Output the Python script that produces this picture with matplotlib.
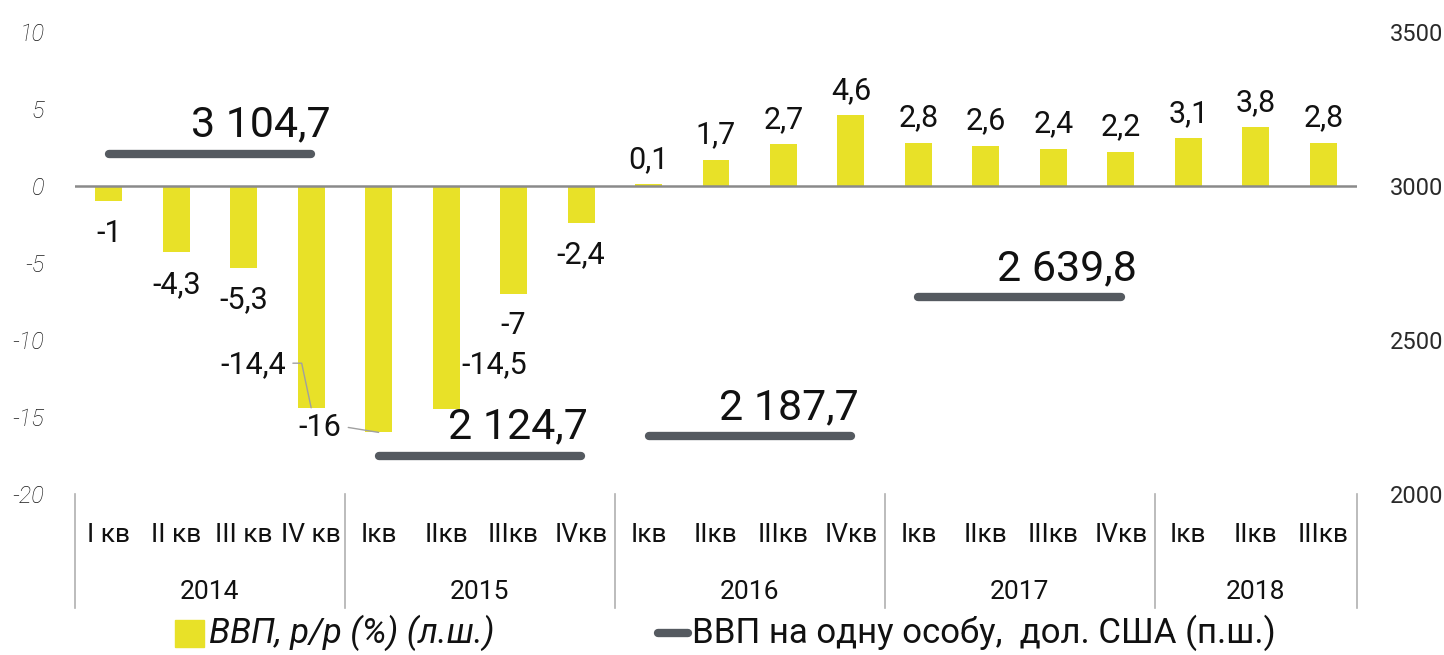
import matplotlib
matplotlib.use("Agg")
import matplotlib.pyplot as plt
from matplotlib.lines import Line2D
from matplotlib.patches import Rectangle

plt.rcParams['font.family'] = ['Roboto', 'DejaVu Sans']

# ---- data ----
quarters = ["I кв", "II кв", "III кв", "IV кв",
            "Iкв", "IIкв", "IIIкв", "IVкв",
            "Iкв", "IIкв", "IIIкв", "IVкв",
            "Iкв", "IIкв", "IIIкв", "IVкв",
            "Iкв", "IIкв", "IIIкв"]
years = ["2014", "2015", "2016", "2017", "2018"]
year_sizes = [4, 4, 4, 4, 3]
gdp_growth = [-1, -4.3, -5.3, -14.4, -16, -14.5, -7, -2.4,
              0.1, 1.7, 2.7, 4.6, 2.8, 2.6, 2.4, 2.2, 3.1, 3.8, 2.8]
gdp_per_capita = [3104.7, 2124.7, 2187.7, 2639.8]
gdp_pc_labels = ["3 104,7", "2 124,7", "2 187,7", "2 639,8"]
left_ticks = [10, 5, 0, -5, -10, -15, -20]
right_ticks = [2000, 2500, 3000, 3500]

# label x-offsets (pixels) for the big per-capita labels
pc_label_dx = [19, 7, 8, 16]

BAR = "#E8E128"
LINE = "#555A60"
TXT = "#111111"
PX = 72 / 100  # points per pixel

W, H = 1444, 655
fig = plt.figure(figsize=(W / 100, H / 100), dpi=100)
x0, x1, ytop, ybot = 75, 1357, 32, 494
ax = fig.add_axes([x0 / W, 1 - ybot / H, (x1 - x0) / W, (ybot - ytop) / H])
ax2 = ax.twinx()

n = len(gdp_growth)
xs = list(range(n))
ax.bar(xs, gdp_growth, width=0.4, color=BAR, zorder=2)
ax.set_xlim(-0.5, n - 0.5)
ax.set_ylim(-20, 10)
ax2.set_ylim(2000, 3500)
ax.axhline(0, color="#8A8A8A", lw=1.8, zorder=3)

for a in (ax, ax2):
    for s in a.spines.values():
        s.set_visible(False)
ax.set_xticks([])
ax.set_yticks(left_ticks)
ax.set_yticklabels([str(t) for t in left_ticks], fontstyle="italic",
                   fontsize=17, color="#1a1a1a", fontweight="light")
ax.tick_params(axis="y", length=0, pad=22)
ax2.set_yticks(right_ticks)
ax2.set_yticklabels([str(t) for t in right_ticks], fontsize=17, color="#2a2a2a")
ax2.tick_params(axis="y", length=0, pad=24)


def fmt(v):
    return ("%g" % v).replace(".", ",")


LBL = 22
# bar value labels
special = {3, 4, 5}
for i, v in enumerate(gdp_growth):
    if i in special:
        continue
    off = 25 if v >= 0 else -32
    ax.annotate(fmt(v), (i, v), xytext=(0, off * PX), textcoords="offset points",
                ha="center", va="center", fontsize=LBL, color=TXT, zorder=5)

# labels with leader lines
ax.annotate(fmt(gdp_growth[3]), xy=(3, gdp_growth[3]), xytext=(2.14, -11.6),
            ha="center", va="center", fontsize=LBL, color=TXT,
            arrowprops=dict(arrowstyle="-", color="#A0A0A0", lw=1,
                            connectionstyle="angle,angleA=0,angleB=102,rad=0",
                            relpos=(1, 0.55), shrinkA=3, shrinkB=0))
ax.annotate(fmt(gdp_growth[4]), xy=(4, gdp_growth[4]), xytext=(3.13, -15.7),
            ha="center", va="center", fontsize=LBL, color=TXT,
            arrowprops=dict(arrowstyle="-", color="#A0A0A0", lw=1,
                            relpos=(1, 0.55), shrinkA=3, shrinkB=0))
ax.annotate(fmt(gdp_growth[5]), xy=(5.22, -11.6), ha="left", va="center",
            fontsize=LBL, color=TXT)

# GDP per capita lines (right axis)
start = 0
for k, val in enumerate(gdp_per_capita):
    a, b = start, start + year_sizes[k] - 1
    ax2.plot([a, b], [val, val], color=LINE, lw=6, solid_capstyle="round", zorder=4)
    ax2.annotate(gdp_pc_labels[k], (b, val), xytext=(pc_label_dx[k] * PX, 17 * PX),
                 textcoords="offset points", ha="right", va="baseline",
                 fontsize=31, color=TXT)
    start += year_sizes[k]

# category axis
trans = ax.get_xaxis_transform()
hax = ybot - ytop
qy = -(535 - ybot) / hax
yy = -(592 - ybot) / hax
sep_bot = -(608 - ybot) / hax
for i, q in enumerate(quarters):
    ax.text(i, qy, q, transform=trans, ha="center", va="center",
            fontsize=19, color=TXT)
start = 0
bounds = [-0.5]
for k, yname in enumerate(years):
    c = start + (year_sizes[k] - 1) / 2
    ax.text(c, yy, yname, transform=trans, ha="center", va="center",
            fontsize=19, color=TXT)
    start += year_sizes[k]
    bounds.append(start - 0.5)
for bx in bounds:
    ax.add_line(Line2D([bx, bx], [0, sep_bot], transform=trans, color="#B0B0B0",
                       lw=1.2, clip_on=False))

# legend (manual)
ly = 1 - 633 / H
fig.patches.append(Rectangle((175 / W, 1 - 647 / H), 29 / W, 27 / H,
                             transform=fig.transFigure, color=BAR))
fig.text(209 / W, ly, "ВВП, р/р (%) (л.ш.)", fontstyle="italic",
         fontsize=25, color=TXT, va="center", ha="left")
fig.lines.append(Line2D([658 / W, 688 / W], [ly, ly], transform=fig.transFigure,
                        color=LINE, lw=6, solid_capstyle="round"))
fig.text(692 / W, ly, "ВВП на одну особу,  дол. США (п.ш.)",
         fontsize=25, color=TXT, va="center", ha="left")

fig.savefig("out.png", dpi=100)
